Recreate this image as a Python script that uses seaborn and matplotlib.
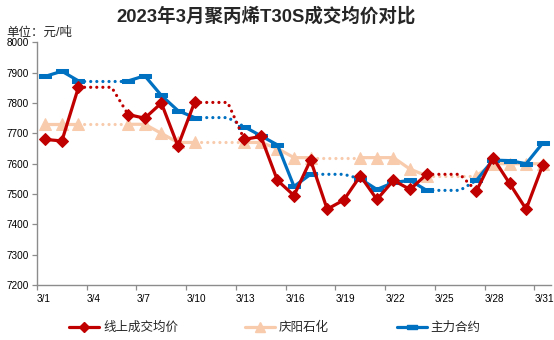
import numpy as np
import pandas as pd
import matplotlib
matplotlib.use("Agg")
import matplotlib.pyplot as plt
from matplotlib.lines import Line2D
import seaborn as sns

# ---------------- data ----------------
days = list(range(1, 32))
tick_days = [1, 4, 7, 10, 13, 16, 19, 22, 25, 28, 31]
tick_labels = [f"3/{d}" for d in tick_days]
y_ticks = [7200, 7300, 7400, 7500, 7600, 7700, 7800, 7900, 8000]

series_names = ["线上成交均价", "庆阳石化", "主力合约"]
online_avg = [7680, 7675, 7852, None, None, 7762, 7750, 7800, 7658, 7802, None, None,
              7680, 7690, 7545, 7495, 7612, 7450, 7480, 7560, 7482, 7545, 7515, 7565,
              None, None, 7510, 7620, 7535, 7450, 7595]
qingyang = [7730, 7730, 7730, None, None, 7730, 7730, 7700, 7670, 7670, None, None,
            7670, 7670, 7650, 7620, 7620, None, None, 7620, 7620, 7620, 7582, 7560,
            None, None, 7560, 7600, 7600, 7600, 7600]
main_contract = [7888, 7905, 7873, None, None, 7873, 7890, 7825, 7775, 7752, None, None,
                 7722, 7692, 7662, 7525, 7565, None, None, 7550, 7515, 7538, 7545, 7512,
                 None, None, 7545, 7612, 7610, 7600, 7668]

# ---------------- style ----------------
sns.set_theme(style="white")
plt.rcParams["font.family"] = ["Liberation Sans", "Noto Sans CJK SC", "DejaVu Sans"]

RED = "#C00000"
PINK = "#F8CBAD"
BLUE = "#0070C0"
dash_marker = [(-1, -0.32), (1, -0.32), (1, 0.32), (-1, 0.32), (-1, -0.32)]

styles = {
    "线上成交均价": dict(color=RED, marker="D", ms=6.5, values=online_avg),
    "庆阳石化": dict(color=PINK, marker="^", ms=8.5, values=qingyang),
    "主力合约": dict(color=BLUE, marker=dash_marker, ms=9, values=main_contract),
}


def split_segments(vals):
    """Return (solid_df, dotted_df) using category positions (day)."""
    solid_rows, dot_rows = [], []
    seg = 0
    prev_valid = False
    for d, v in zip(days, vals):
        if v is None:
            if prev_valid:
                seg += 1
            prev_valid = False
            continue
        solid_rows.append((d, v, seg))
        prev_valid = True
    # dotted bridges over gaps: flat carry forward, then step to next value
    dseg = 0
    i = 0
    n = len(vals)
    while i < n:
        if vals[i] is None and i > 0 and vals[i - 1] is not None:
            j = i
            while j < n and vals[j] is None:
                j += 1
            if j < n:
                last = vals[i - 1]
                dot_rows.append((days[i - 1], last, dseg))
                for k in range(i, j):
                    dot_rows.append((days[k], last, dseg))
                dot_rows.append((days[j], vals[j], dseg))
                dseg += 1
            i = j
        else:
            i += 1
    return (pd.DataFrame(solid_rows, columns=["day", "value", "seg"]),
            pd.DataFrame(dot_rows, columns=["day", "value", "seg"]))


fig = plt.figure(figsize=(5.54, 3.40), dpi=100)
ax = fig.add_axes([0.0668, 0.1618, 0.9278, 0.7135])

order = ["庆阳石化", "主力合约", "线上成交均价"]
lw = 2.3
for name in order:
    st = styles[name]
    solid, dotted = split_segments(st["values"])
    sns.lineplot(data=dotted, x="day", y="value", units="seg", estimator=None,
                 color=st["color"], lw=lw, linestyle=(0, (0.01, 1.9)),
                 dash_capstyle="round", ax=ax, legend=False, sort=False)
    sns.lineplot(data=solid, x="day", y="value", units="seg", estimator=None,
                 color=st["color"], lw=lw, marker=st["marker"], ms=st["ms"],
                 markeredgecolor=st["color"], markerfacecolor=st["color"],
                 ax=ax, legend=False, sort=False)

ax.set_xlim(0.5, 31.5)
ax.set_ylim(7200, 8000)
ax.set_yticks(y_ticks)
ax.set_yticklabels([str(v) for v in y_ticks])
ax.set_xticks([d - 0.5 for d in tick_days])
ax.set_xticklabels(tick_labels, ha="left")
ax.set_xlabel("")
ax.set_ylabel("")
ax.grid(False)

for s in ["top", "right"]:
    ax.spines[s].set_visible(False)
for s in ["left", "bottom"]:
    ax.spines[s].set_color("#8C8C8C")
    ax.spines[s].set_linewidth(1.0)
ax.tick_params(axis="both", which="both", direction="out", length=3.5, width=0.9,
               color="#8C8C8C", labelsize=7.2, labelcolor="black")
ax.tick_params(axis="y", pad=2.5, left=True)
ax.tick_params(axis="x", pad=3, bottom=True)

fig.text(0.48, 0.953, "2023年3月聚丙烯T30S成交均价对比", ha="center", va="center",
         fontsize=13.3, fontweight="bold")
fig.text(0.012, 0.905, "单位：元/吨", ha="left", va="center", fontsize=9)

handles = []
for name in series_names:
    st = styles[name]
    handles.append(Line2D([0], [0], color=st["color"], lw=lw, marker=st["marker"],
                          ms=st["ms"] * 0.85, markerfacecolor=st["color"],
                          markeredgecolor=st["color"]))
fig.legend(handles, series_names, loc="center", bbox_to_anchor=(0.496, 0.035),
           ncol=3, frameon=False, fontsize=9, handlelength=2.4, handletextpad=0.3,
           columnspacing=5.4)

fig.savefig("out.png", dpi=100)
